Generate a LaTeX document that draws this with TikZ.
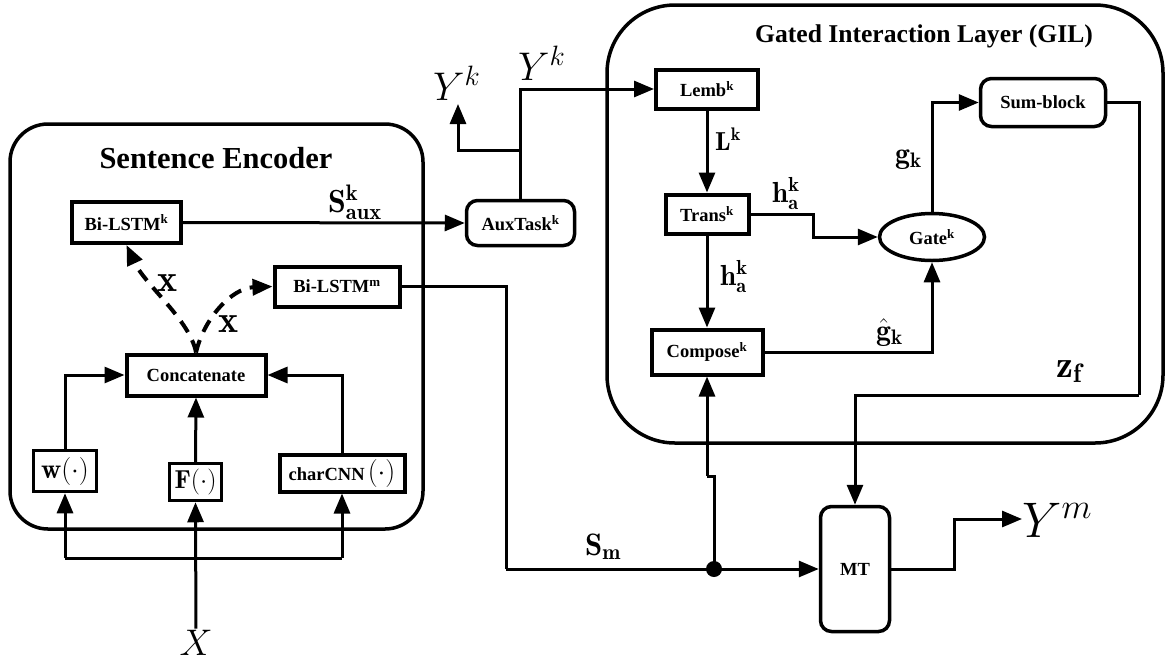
\documentclass[tikz,border=0pt]{standalone}
\usepackage{fix-cm}
\usepackage{fontspec}
\usetikzlibrary{arrows.meta,shapes.geometric}
\newfontfamily\tnr{Liberation Serif}
\newcommand{\fsz}[1]{\fontsize{#1}{#1}\selectfont}
\tikzset{
  box/.style={draw, line width=4pt, inner sep=0pt, font=\tnr\bfseries\fsz{18.5}},
  rbox/.style={box, line width=3.5pt, rounded corners=11pt},
  conn/.style={line width=3pt, -{Triangle[length=20pt,width=16pt]}},
  plain/.style={line width=3pt},
  dconn/.style={line width=4pt, dash pattern=on 13pt off 9pt, -{Triangle[length=20pt,width=16pt]}},
  lbl/.style={inner sep=0pt, anchor=base west},
  container/.style={draw, line width=3.5pt, inner sep=0pt},
}
\begin{document}
\begin{tikzpicture}[x=1pt,y=-1pt]
\useasboundingbox (0,0) rectangle (1166,665);
% containers
\node[container, rounded corners=38pt, minimum width=413, minimum height=405] (se) at (216.5,326.5) {};
\node[container, rounded corners=68pt, minimum width=556, minimum height=438] (gil) at (885,224) {};
\node[anchor=base, inner sep=0pt, font=\tnr\bfseries\fsz{30.5}] (setitle) at (216,168) {Sentence Encoder};
\node[anchor=base, inner sep=0pt, font=\tnr\bfseries\fsz{25.6}] (giltitle) at (924,42) {Gated Interaction Layer (GIL)};
% encoder boxes
\node[box, minimum width=109, minimum height=41] (bilk) at (126.5,222.5) {Bi-LSTM\textsuperscript{k}};
\node[box, minimum width=125, minimum height=40] (bilm) at (337,286.5) {Bi-LSTM\textsuperscript{m}};
\node[box, minimum width=139, minimum height=41] (concat) at (196,375) {Concatenate\hspace{14pt}};
\node[box, line width=3.5pt, minimum width=63, minimum height=41] (wbox) at (65,471) {\fsz{28}$\mathbf{w}(\cdot)$};
\node[box, line width=3.5pt, minimum width=52, minimum height=37] (fbox) at (195.5,482) {\fsz{26}$\mathbf{F}(\cdot)$};
\node[box, minimum width=125, minimum height=37] (cbox) at (342,473) {charCNN\,\fsz{28}$(\cdot)$};
\node[inner sep=1pt, anchor=base, font=\fsz{37}] (X) at (196,655) {$X$};
% middle
\node[rbox, minimum width=108, minimum height=45] (aux) at (520.5,223) {AuxTask\textsuperscript{k}};
% GIL boxes
\node[box, minimum width=102, minimum height=39] (lemb) at (707,89) {Lemb\textsuperscript{k}};
\node[box, minimum width=83, minimum height=39] (trans) at (707,214) {Trans\textsuperscript{k}};
\node[box, minimum width=111, minimum height=45] (compose) at (707,352) {Compose\textsuperscript{k}};
\node[box, ellipse, line width=3.5pt, minimum width=105, minimum height=47] (gate) at (932,237) {Gate\textsuperscript{k}};
\node[rbox, minimum width=125, minimum height=48] (sum) at (1043,102.5) {Sum-block};
\node[rbox, minimum width=69, minimum height=125] (mt) at (855,569) {MT};
% coordinates
\coordinate (jl) at (65,558);
\coordinate (jr) at (342,558);
\coordinate (smc) at (506,569);
\coordinate (dot) at (714,569);
\coordinate (jog) at (714,476);
\coordinate (jog2) at (707,476);
\coordinate (br) at (520.5,150);
\coordinate (ykarr) at (458,104);
\coordinate (tg) at (813,237);
\coordinate (zc) at (1139,395);
\coordinate (ymc) at (954,519);
% encoder connectors
\draw[conn] (X) -- (fbox.south);
\draw[plain] (jl) -- (jr);
\draw[conn] (jl) -- (wbox.south);
\draw[conn] (jr) -- (cbox.south);
\draw[conn] (wbox.north) |- (concat.west);
\draw[conn] (cbox.north) |- (concat.east);
\draw[conn] (fbox.north) -- (concat.south);
\draw[dconn] (concat.north) .. controls (190,320) and (145,285) .. (bilk.south);
\draw[dconn] (concat.north) .. controls (204,318) and (232,288) .. (bilm.west);
\node[lbl, font=\fsz{38}] (x1) at (157,291) {$\mathbf{x}$};
\node[lbl, font=\fsz{38}] (x2) at (218,332) {$\mathbf{x}$};
% encoder outputs
\draw[conn] (bilk.east) -- (aux.west);
\node[lbl, font=\fsz{32}] (saux) at (328,212) {$\mathbf{S^k_{aux}}$};
\draw[plain] (bilm.east) -| (smc);
\draw[conn] (smc) -- (mt.west);
\node[lbl, font=\fsz{31}] (sm) at (585,555) {$\mathbf{S_m}$};
\fill (dot) circle (8pt);
\draw[plain] (dot) -- (jog) -- (jog2);
\draw[conn] (jog2) -- (compose.south);
% aux task
\draw[conn] (aux.north) |- (lemb.west);
\draw[conn] (br) -| (ykarr);
\node[lbl, font=\fsz{40}] (ykl) at (433,100) {$Y^k$};
\node[lbl, font=\fsz{40}] (ykt) at (518,80) {$Y^k$};
% GIL connectors
\draw[conn] (lemb.south) -- (trans.north);
\node[lbl, font=\fsz{26}] (lk) at (715,150) {$\mathbf{L^k}$};
\draw[conn] (trans.east) -| (tg) -- (gate.west);
\node[lbl, font=\fsz{29}] (ha1) at (772,202) {$\mathbf{h^k_a}$};
\draw[conn] (trans.south) -- (compose.north);
\node[lbl, font=\fsz{29}] (ha2) at (720,285) {$\mathbf{h^k_a}$};
\draw[conn] (compose.east) -| (gate.south);
\node[lbl, font=\fsz{30}] (ghat) at (876,340) {$\hat{\mathbf{g}}_{\mathbf{k}}$};
\draw[conn] (gate.north) |- (sum.west);
\node[lbl, font=\fsz{30}] (gk) at (895,163) {$\mathbf{g_k}$};
\draw[plain] (sum.east) -| (zc);
\draw[conn] (zc) -| (mt.north);
\node[lbl, font=\fsz{38}] (zf) at (1056,377) {$\mathbf{z_f}$};
% MT output
\node[lbl, font=\fsz{50}] (ym) at (1022,537) {$Y^m$};
\draw[conn] (mt.east) -| (ymc) -- (ym.west |- ymc);
\end{tikzpicture}
\end{document}
